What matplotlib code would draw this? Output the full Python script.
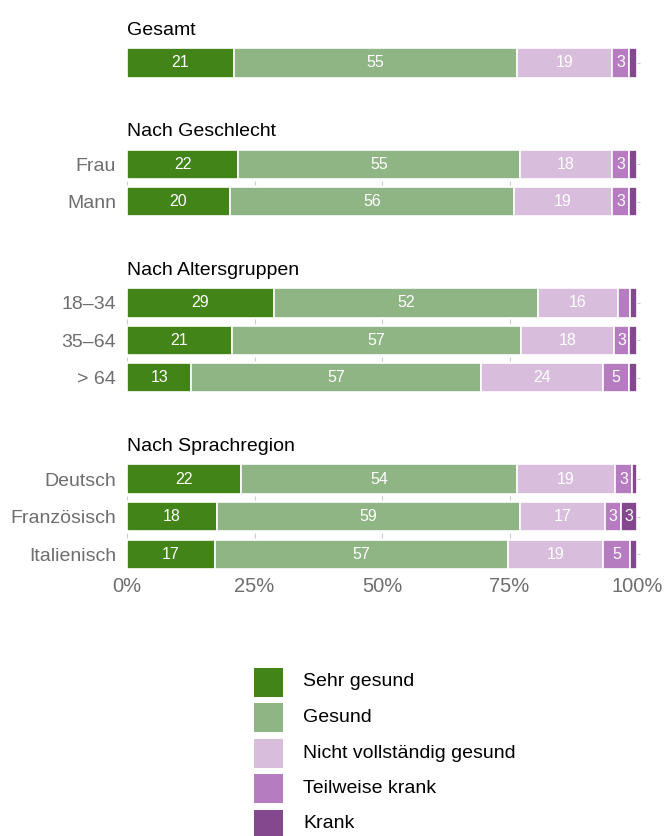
import matplotlib
matplotlib.use("Agg")
import matplotlib.pyplot as plt
from matplotlib.patches import Rectangle
import numpy as np

plt.rcParams['font.family'] = ['Liberation Sans', 'DejaVu Sans']

groups = ["Gesamt", "Nach Geschlecht", "Nach Altersgruppen", "Nach Sprachregion"]
rows = [[""], ["Frau", "Mann"], ["18–34", "35–64", "> 64"],
        ["Deutsch", "Französisch", "Italienisch"]]
categories = ["Sehr gesund", "Gesund", "Nicht vollständig gesund",
              "Teilweise krank", "Krank"]
colors = ["#438419", "#8fb584", "#d9bddd", "#b57cc0", "#84488e"]

# share in % per row (order of rows above)
sehr_gesund = [21.0, 21.8, 20.2, 28.8, 20.6, 12.6, 22.4, 17.6, 17.3]
gesund = [55.4, 55.3, 55.7, 51.8, 56.7, 56.8, 54.1, 59.4, 57.4]
nicht_voll = [18.7, 18.0, 19.2, 15.7, 18.2, 24.0, 19.2, 16.8, 18.6]
teilweise = [3.4, 3.4, 3.4, 2.3, 3.0, 5.0, 3.3, 3.1, 5.3]
krank = [1.5, 1.5, 1.5, 1.4, 1.5, 1.6, 1.0, 3.1, 1.4]
series = [sehr_gesund, gesund, nicht_voll, teilweise, krank]

# y positions: one unit per bar, bigger gap between groups
gap = 2.7
ypos, ylabels, header_y = [], [], []
y = 0.0
for gi, g in enumerate(rows):
    if gi > 0:
        y += gap - 1
    header_y.append(y - 0.86)
    for r in g:
        ypos.append(y)
        ylabels.append(r)
        y += 1
ypos = np.array(ypos)

fig = plt.figure(figsize=(6.65, 8.36), dpi=100)
W, H = 665, 836
ax = fig.add_axes([127 / W, 1 - 571 / H, (637 - 127) / W, (571 - 16) / H])

bar_h = 0.78
left = np.zeros(len(ypos))
for ci, vals in enumerate(series):
    vals = np.array(vals)
    ax.barh(ypos, vals, left=left, height=bar_h, color=colors[ci],
            edgecolor="white", linewidth=1.2)
    for yy, l, v in zip(ypos, left, vals):
        if v >= 2.5:
            ax.text(l + v / 2, yy, f"{v:.0f}", ha="center", va="center",
                    color="white", fontsize=11.5)
    left += vals

# small grey ticks between bars of the same group
for i in range(len(ypos) - 1):
    if ypos[i + 1] - ypos[i] == 1:
        mid = ypos[i] + 0.5
        ax.vlines([0, 25, 50, 75, 100], mid - 0.06, mid + 0.06,
                  color="#cccccc", linewidth=0.8)

for g, hy in zip(groups, header_y):
    ax.text(0, hy, g, ha="left", va="center", fontsize=14, color="black")

ax.set_xlim(0, 100)
ax.set_ylim(13.55, -1.25)
ax.set_yticks(ypos)
ax.set_yticklabels(ylabels, fontsize=14, color="#6e6e6e")
ax.tick_params(axis="y", left=False, right=True, labelleft=True,
               labelright=False, length=2, color="#cccccc", pad=6)
ax.set_xticks([0, 25, 50, 75, 100])
ax.set_xticklabels(["0%", "25%", "50%", "75%", "100%"], fontsize=14.5,
                   color="#6e6e6e")
ax.tick_params(axis="x", length=0, pad=4)
for s in ax.spines.values():
    s.set_visible(False)

# legend drawn in pixel coordinates
lax = fig.add_axes([0, 0, 1, 1], zorder=-1)
lax.set_xlim(0, W)
lax.set_ylim(H, 0)
lax.axis("off")
for i, (c, lab) in enumerate(zip(colors, categories)):
    cy = 682 + i * 35.5
    lax.add_patch(Rectangle((254, cy - 14.5), 29, 29, facecolor=c,
                            edgecolor="none"))
    lax.text(303, cy, lab, ha="left", va="center", fontsize=14, color="black")

fig.savefig("out.png", dpi=100)
